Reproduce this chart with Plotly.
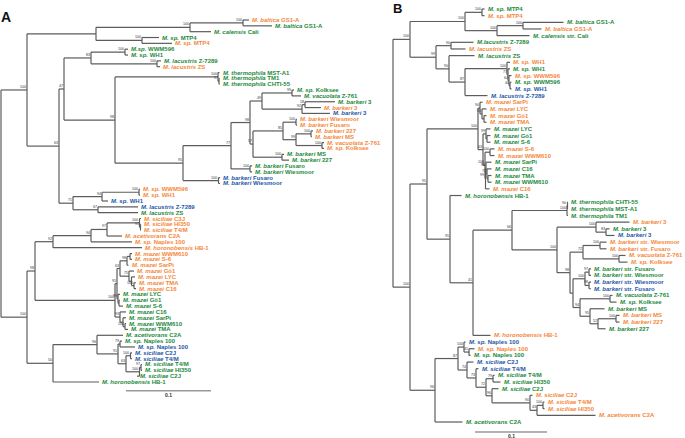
import plotly.graph_objects as go

ORANGE = "#F5873A"
GREEN = "#238A3C"
BLUE = "#2757A8"
COLORS = {"o": ORANGE, "g": GREEN, "b": BLUE}
LINE = "#5c5c5c"
FONT = "Liberation Sans, Arial, sans-serif"

# ---------------- Panel A data ----------------
A_SPECIES = ["M. baltica", "M. baltica", "M. calensis", "M. sp.", "M. sp.", "M.sp.", "M. sp.",
             "M. lacustris", "M. lacustris", "M. thermophila", "M. thermophila", "M. thermophila",
             "M. sp.", "M. vacuolata", "M. barkeri", "M. barkeri", "M. barkeri", "M. barkeri",
             "M. barkeri", "M. barkeri", "M. barkeri", "M. vacuolata", "M. sp.", "M. barkeri",
             "M. barkeri", "M. barkeri", "M. barkeri", "M. barkeri", "M. barkeri", "M. sp.",
             "M. sp.", "M. sp.", "M. lacustris", "M. lacustris", "M. siciliae", "M. siciliae",
             "M. siciliae", "M. acetivorans", "M. sp.", "M. horonobensis",
             "M. mazei", "M. mazei", "M. mazei", "M. mazei", "M. mazei", "M. mazei", "M. mazei",
             "M. mazei", "M. mazei", "M. mazei", "M. mazei", "M. mazei", "M. mazei", "M. mazei",
             "M. acetivorans", "M. sp.", "M. sp.", "M. siciliae", "M. siciliae", "M. siciliae",
             "M. siciliae", "M. siciliae", "M. horonobensis"]
A_STRAIN = ["GS1-A", "GS1-A", "Cali", "MTP4", "MTP4", "WWM596", "WH1", "Z-7289", "ZS",
            "MST-A1", "TM1", "CHTI-55", "Kolksee", "Z-761", "3", "3", "3", "Wiesmoor", "Fusaro",
            "227", "MS", "Z-761", "Kolksee", "MS", "227", "Fusaro", "Wiesmoor", "Fusaro",
            "Wiesmoor", "WWM596", "WH1", "WH1", "Z-7289", "ZS", "C3J", "HI350", "T4/M", "C2A",
            "Naples 100", "HB-1", "WWM610", "S-6", "SarPi", "Gö1", "LYC", "TMA", "C16",
            "LYC", "Gö1", "S-6", "C16", "SarPi", "WWM610", "TMA", "C2A", "Naples 100",
            "Naples 100", "C2J", "T4/M", "T4/M", "HI350", "C2J", "HB-1"]
A_COLOR = list("ogggogggog" "gggggobooo" "oooggggbbo" "obbgoooooo"
               "ooooooo" "ggggggg" "ggbbbgggg")
A_TIP_DEPTH = [249, 272, 211, 159, 172, 128, 128, 161, 160, 219.5, 219.5, 219.5, 294, 301,
               335, 321, 330, 297, 297, 313, 312, 324, 324, 284, 289, 252, 252, 220, 220,
               140, 140, 108, 138, 138, 141, 141, 141, 122, 132, 142, 132, 132, 128.5, 134,
               135, 136, 136, 120, 120, 123, 126, 126, 126, 128, 123, 122, 135, 132, 132,
               142, 142, 137, 99]

A_NODE_NAME = ["root", "up", "top", "bc", "bb", "mtp4", "n63", "n47", "n83", "ww", "lac",
               "n98", "therm", "n97t", "n95", "n77", "n98b", "n49", "vk", "n92", "b3", "n57",
               "n85", "owf", "n99", "oms", "vko", "gms", "gwf", "bwf", "n71", "n94", "ow",
               "n67", "lo", "n98L", "n92L", "n94L", "n97L", "sico", "n91", "maz", "m1", "om",
               "oa", "o130", "ob", "o133", "o136", "ga", "g119", "gb", "g123", "g125", "n50",
               "n96", "n91L", "n79", "n63L", "sicb", "n100", "n97s"]
A_NODE_DEPTH = [1, 27, 96, 190, 243, 142, 59, 64, 91, 125, 157,
                115, 218, 219, 183, 231, 250, 262, 292, 302, 305, 253,
                283, 296, 296, 311, 322, 282, 250, 218.5, 73, 102, 139,
                98, 27, 35, 53, 91, 107, 139.5, 140.5, 115, 117, 120,
                127, 130, 129, 131.5, 134, 118, 119, 120, 123, 125, 53,
                97, 118, 120, 126, 130.5, 139.5, 141]
A_NODE_SUPPORT = ["", "100", "", "100", "100", "100", "63", "47", "83", "100", "100",
                  "98", "100", "97", "95", "77", "98", "49", "99", "92", "18", "57",
                  "85", "100", "99", "100", "100", "100", "100", "100", "71", "94", "100",
                  "67", "100", "98", "92", "94", "97", "100", "91", "100", "95", "63",
                  "98", "", "75", "", "100", "99", "", "93", "", "100", "50",
                  "96", "91", "79", "63", "100", "100", "97"]
A_NODE_KIDS = ["up lo", "top n63", "bc mtp4", "bb 2", "0 1", "3 4", "n47 n71", "n83 n98",
               "ww lac", "5 6", "7 8", "therm n95", "9 n97t", "10 11", "n77 bwf", "n98b gwf",
               "n49 n57", "vk n92", "12 13", "b3 16", "14 15", "n85 gms", "owf n99", "17 18",
               "oms vko", "19 20", "21 22", "23 24", "25 26", "27 28", "n94 n67", "ow 31",
               "29 30", "32 33", "n98L n50", "n92L maz", "n94L 39", "n97L 38", "sico 37",
               "34 n91", "35 36", "m1 gb", "om ga", "oa ob", "o130 42", "40 41", "43 o133",
               "44 o136", "45 46", "47 g119", "48 49", "50 g123", "51 g125", "52 53",
               "n96 62", "54 n91L", "n79 n63L", "55 56", "sicb n100", "57 58", "n97s 61",
               "59 60"]

# ---------------- Panel B data ----------------
B_SPECIES = ["M. sp.", "M. sp.", "M. baltica", "M. baltica", "M. calensis", "M.lacustris",
             "M. lacustris", "M. lacustris", "M. sp.", "M. sp.", "M. sp.", "M. sp.", "M. sp.",
             "M. lacustris", "M. mazei", "M. mazei", "M. mazei", "M. mazei", "M. mazei",
             "M. mazei", "M. mazei", "M. mazei", "M. mazei", "M. mazei", "M. mazei", "M. mazei",
             "M. mazei", "M. mazei", "M. horonobensis", "M. thermophila", "M. thermophila",
             "M. thermophila", "M. barkeri", "M. barkeri", "M. barkeri", "M. barkeri",
             "M. barkeri", "M. vacuolata", "M. sp.", "M. barkeri", "M. barkeri", "M. barkeri",
             "M. barkeri", "M. vacuolata", "M. sp.", "M. barkeri", "M. barkeri", "M. barkeri",
             "M. barkeri", "M. horonobensis", "M. sp.", "M. sp.", "M. sp.", "M. siciliae",
             "M. siciliae", "M. siciliae", "M. siciliae", "M. siciliae", "M. siciliae",
             "M. siciliae", "M. siciliae", "M. acetivorans", "M. acetivorans"]
B_STRAIN = ["MTP4", "MTP4", "GS1-A", "GS1-A", "str. Cali", "Z-7289", "ZS", "ZS", "WH1", "WH1",
            "WWM596", "WWM596", "WH1", "Z-7289", "SarPi", "LYC", "Gö1", "TMA", "LYC", "Gö1",
            "S-6", "S-6", "WWM610", "SarPi", "C16", "TMA", "WWM610", "C16", "HB-1", "CHTI-55",
            "MST-A1", "TM1", "3", "3", "3", "str. Wiesmoor", "str. Fusaro", "Z-761", "Kolksee",
            "str. Fusaro", "str. Wiesmoor", "str. Wiesmoor", "str. Fusaro", "Z-761", "Kolksee",
            "MS", "MS", "227", "227", "HB-1", "Naples 100", "Naples 100", "Naples 100", "C2J",
            "T4/M", "T4/M", "HI350", "C2J", "C2J", "T4/M", "HI350", "C2A", "C2A"]
B_COLOR = list("gogoggogog" "ogbboooogg" "googgggogg" "ggogboooog"
               "gbbgggoogo" "bogbbgggoo" "oog")
B_TIP_DEPTH = [484.5, 484.5, 563.5, 541.5, 529.5, 473.5, 465.5, 474.5, 510, 510, 511.5,
               511.5, 511.5, 487.5, 482.5, 486.5, 486.5, 486.5, 490.5, 490.5, 490.5, 494.5,
               494.5, 491.5, 491.5, 491.5, 491.5, 489.5, 461.5, 568, 568, 568, 629.5, 609.5,
               614.5, 606.5, 606.5, 625.5, 627.5, 591, 591, 591, 591, 612.5, 616.5, 604.5,
               619.5, 619.5, 605.5, 490.5, 465.5, 474.5, 470.5, 473.5, 478.5, 494.5, 500.5,
               498.5, 532.5, 544.5, 544.5, 595.5, 462.5]

B_NODE_NAME = ["rootB", "upB", "n465", "mtpB", "bcB", "bB", "n99B", "n90a", "n90b", "n87w",
               "wh", "n77w", "n64w", "n40w", "loB", "n95a", "bm", "bo1", "bn1", "bn2",
               "brest", "bg2", "bn3", "brest2", "bn4", "brest3", "bn5", "bn6", "bn7", "n95b",
               "n41", "n66", "thB", "n90t", "n100B", "b3B", "n83B", "n98B", "n72B", "owfB",
               "vkoB", "xB", "yB", "gwfB", "bwfB", "n94B", "vkgB", "n95c", "n52", "omsB",
               "n96B", "n87B", "nap", "n41n", "n74", "n73", "n72s", "n79s", "n96s", "pB",
               "qB", "rB"]
B_NODE_DEPTH = [393, 410, 465, 482, 497, 523, 436, 451, 449, 465,
                507, 508, 509, 510, 410, 427, 478, 480, 482, 484,
                483, 486, 487, 485, 490, 485.5, 486, 487, 488, 450,
                473, 512, 567, 567.5, 557, 596, 606, 570, 583, 600,
                619, 573, 585, 589, 589, 580, 610, 590, 598, 616,
                435, 458, 464, 469, 467, 476, 486, 493, 492, 530,
                537, 543]
B_NODE_SUPPORT = ["", "100", "100", "100", "100", "100", "99", "90", "90", "87",
                  "100", "77", "64", "40", "100", "95", "100", "90", "90", "",
                  "63", "99", "", "100", "100", "99", "99", "71", "", "95",
                  "41", "66", "100", "90", "100", "100", "83", "98", "72", "100",
                  "100", "", "100", "97", "98", "94", "100", "95", "52", "100",
                  "96", "87", "100", "41", "74", "73", "72", "79", "96", "90",
                  "43", "100"]
B_NODE_KIDS = ["upB loB", "n465 n99B", "mtpB bcB", "0 1", "bB 4", "2 3", "n90a n90b", "5 6",
               "7 n87w", "wh 13", "8 n77w", "9 n64w", "10 n40w", "11 12", "n95a n96B",
               "bm n95b", "bo1 brest", "14 bn1", "15 bn2", "16 17", "bg2 brest2", "18 bn3",
               "19 20", "bn4 brest3", "21 22", "bn5 27", "23 bn6", "24 bn7", "25 26",
               "28 n41", "n66 49", "thB n100B", "n90t 31", "29 30", "b3B n98B", "32 n83B",
               "33 34", "n72B xB", "owfB vkoB", "35 36", "37 38", "yB n94B", "gwfB bwfB",
               "39 40", "41 42", "vkgB n95c", "43 44", "45 n52", "omsB 48", "46 47",
               "n87B 62", "nap n74", "50 n41n", "51 52", "53 n73", "54 n72s", "n79s n96s",
               "55 56", "57 pB", "58 qB", "rB 61", "59 60"]

# scale bars: start position and length of 0.1 substitutions
SCALE_LABEL = "0.1"
A_SCALE_START, A_SCALE_LEN = 126, 85
B_SCALE_START, B_SCALE_LEN = 475, 72

# vertical layout (tip spacing)
A_TOP, A_STEP = 20, (382 - 20) / 62
B_TOP, B_STEP = 9, (422 - 9) / 62
W, H = 685, 438


def build(tip_depth, names, depths, supports, kids):
    idx = {n: i for i, n in enumerate(names)}
    ymemo = {}

    def pos(ref):
        if ref.isdigit():
            k = int(ref)
            return tip_depth[k], float(k)
        if ref in ymemo:
            return depths[idx[ref]], ymemo[ref]
        ch = kids[idx[ref]].split()
        y = (pos(ch[0])[1] + pos(ch[-1])[1]) / 2
        ymemo[ref] = y
        return depths[idx[ref]], y

    xs, ys = [], []
    sup = []
    for n in names:
        nx, ny = pos(n)
        ch = kids[idx[n]].split()
        cy = [pos(c)[1] for c in ch]
        xs += [nx, nx, None]
        ys += [min(cy), max(cy), None]
        for c in ch:
            cx, cyy = pos(c)
            xs += [nx, cx, None]
            ys += [cyy, cyy, None]
        sup.append((nx, ny, supports[idx[n]]))
    return xs, ys, sup


fig = go.Figure()
annotations = []

panels = [
    ("y", A_STEP, A_SPECIES, A_STRAIN, A_COLOR, A_TIP_DEPTH, A_NODE_NAME, A_NODE_DEPTH,
     A_NODE_SUPPORT, A_NODE_KIDS, A_SCALE_START, A_SCALE_LEN),
    ("y2", B_STEP, B_SPECIES, B_STRAIN, B_COLOR, B_TIP_DEPTH, B_NODE_NAME, B_NODE_DEPTH,
     B_NODE_SUPPORT, B_NODE_KIDS, B_SCALE_START, B_SCALE_LEN),
]

for (yref, step, sp, st, col, td, nn, nd, ns, nk, s0, sl) in panels:
    xs, ys, sup = build(td, nn, nd, ns, nk)
    fig.add_trace(go.Scatter(x=xs, y=ys, mode="lines", yaxis=yref, hoverinfo="skip",
                             line=dict(color=LINE, width=1.2), showlegend=False))
    for i in range(len(sp)):
        annotations.append(dict(
            x=td[i] + 2.2, y=i, xref="x", yref=yref, xanchor="left", yanchor="middle",
            text="<b><i>%s</i> %s</b>" % (sp[i], st[i]), showarrow=False, borderpad=0,
            font=dict(family=FONT, size=6.0, color=COLORS[col[i]])))
    for (x, y, s) in sup:
        if s:
            annotations.append(dict(
                x=x - 0.3, y=y, xref="x", yref=yref, xanchor="right", yanchor="bottom",
                text=s, showarrow=False, borderpad=0,
                font=dict(family=FONT, size=3.6, color="#333333")))
    ybar = len(sp) + 0.5
    fig.add_trace(go.Scatter(x=[s0, s0 + sl], y=[ybar, ybar], mode="lines", yaxis=yref,
                             hoverinfo="skip", line=dict(color="#9a9a9a", width=1.6),
                             showlegend=False))
    annotations.append(dict(x=s0 + sl / 2, y=ybar + 4.2 / step, xref="x", yref=yref,
                            xanchor="center", yanchor="middle", text="<b>%s</b>" % SCALE_LABEL,
                            showarrow=False, borderpad=0,
                            font=dict(family=FONT, size=5, color="#333333")))

annotations.append(dict(x=6 / W, y=1 - 17 / H, xref="paper", yref="paper", xanchor="center",
                        yanchor="middle", text="<b>A</b>", showarrow=False, borderpad=0,
                        font=dict(family=FONT, size=14, color="#111111")))
annotations.append(dict(x=397 / W, y=1.0, xref="paper", yref="paper", xanchor="center",
                        yanchor="top", text="<b>B</b>", showarrow=False, borderpad=0,
                        font=dict(family=FONT, size=13, color="#111111")))

fig.update_layout(
    width=W, height=H, margin=dict(l=0, r=0, t=0, b=0),
    paper_bgcolor="white", plot_bgcolor="white",
    xaxis=dict(range=[0, W], visible=False, fixedrange=True),
    yaxis=dict(range=[(H - A_TOP) / A_STEP, -A_TOP / A_STEP], visible=False),
    yaxis2=dict(range=[(H - B_TOP) / B_STEP, -B_TOP / B_STEP], visible=False,
                overlaying="y"),
    annotations=annotations,
)

fig.write_html("out.html", config={"displayModeBar": False},
               post_script="document.body.style.margin='0px';")
